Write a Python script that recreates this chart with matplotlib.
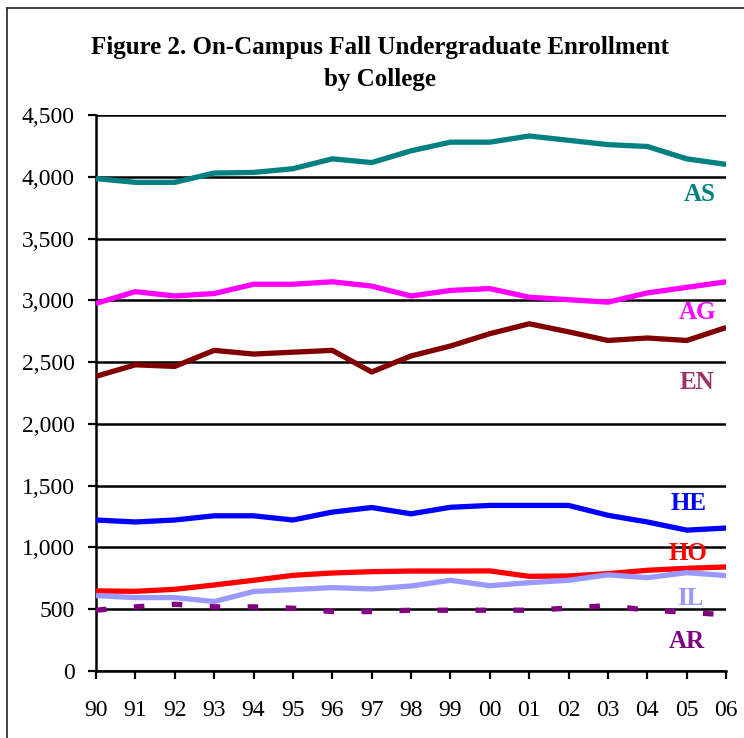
import matplotlib
matplotlib.use("Agg")
import matplotlib.pyplot as plt
from matplotlib.lines import Line2D

years = ["90", "91", "92", "93", "94", "95", "96", "97", "98", "99",
         "00", "01", "02", "03", "04", "05", "06"]

# enrollment by college
AS = [3985, 3955, 3955, 4030, 4035, 4065, 4145, 4115, 4210, 4280,
      4280, 4330, 4295, 4260, 4245, 4145, 4100]
AG = [2975, 3070, 3035, 3055, 3130, 3130, 3150, 3115, 3035, 3080,
      3095, 3025, 3005, 2985, 3060, 3105, 3150]
EN = [2385, 2478, 2465, 2595, 2565, 2580, 2595, 2420, 2550, 2630,
      2730, 2810, 2745, 2675, 2695, 2675, 2780]
HE = [1222, 1206, 1222, 1256, 1256, 1222, 1286, 1323, 1272, 1325,
      1340, 1340, 1340, 1260, 1206, 1140, 1157]
HO = [648, 645, 661, 696, 734, 774, 793, 804, 809, 809,
      810, 766, 769, 788, 815, 831, 842]
IL = [610, 594, 594, 562, 643, 659, 675, 664, 688, 734,
      690, 715, 734, 778, 755, 796, 772]
AR = [492, 519, 540, 519, 519, 508, 481, 481, 492, 492,
      492, 492, 508, 530, 492, 476, 454]

series = [
    ("AS", AS, "#008080", "-"),
    ("AG", AG, "#FF00FF", "-"),
    ("EN", EN, "#800000", "-"),
    ("HE", HE, "#0000FF", "-"),
    ("HO", HO, "#FF0000", "-"),
    ("IL", IL, "#9999FF", "-"),
    ("AR", AR, "#800080", (0, (2.0, 5.2))),
]

# label positions (x index, y value) and colours
labels = {
    "AS": (15.33, 3860, "#008080"),
    "AG": (15.26, 2900, "#FF00FF"),
    "EN": (15.26, 2335, "#993366"),
    "HE": (15.06, 1355, "#0000FF"),
    "HO": (15.03, 950, "#FF0000"),
    "IL": (15.08, 585, "#9999FF"),
    "AR": (15.0, 240, "#800080"),
}

plt.rcParams["font.family"] = ["Liberation Serif", "DejaVu Serif"]

fig = plt.figure(figsize=(7.44, 7.38), dpi=100)
ax = fig.add_axes([0.129, 0.0908, 0.847, 0.7534])

x = list(range(len(years)))
for name, vals, col, ls in series:
    ax.plot(x, vals, color=col, lw=3.8, linestyle=ls, solid_capstyle="butt",
            dash_capstyle="butt", solid_joinstyle="miter", zorder=3)

for name, (lx, ly, col) in labels.items():
    ax.text(lx, ly, name, color=col, fontsize=18, fontweight="bold",
            ha="center", va="center", zorder=4)

ax.set_xlim(0, len(years) - 1)
ax.set_ylim(0, 4500)
ax.set_yticks(range(0, 4501, 500))
ax.set_yticklabels([f"{v:,}" for v in range(0, 4501, 500)])
ax.set_xticks(x)
ax.set_xticklabels(years)
ax.yaxis.grid(True, color="black", lw=1.8)
ax.set_axisbelow(True)
for s in ["top", "right"]:
    ax.spines[s].set_visible(False)
for s in ["left", "bottom"]:
    ax.spines[s].set_linewidth(1.8)
ax.tick_params(axis="both", direction="out", length=6, width=1.6,
               labelsize=17, colors="black")
ax.tick_params(axis="x", pad=15)
ax.tick_params(axis="y", pad=9.5)

fig.text(0.511, 0.914, "Figure 2. On-Campus Fall Undergraduate Enrollment\nby College",
         ha="center", va="center", fontsize=18, fontweight="bold",
         linespacing=1.45)

# chart frame (only top and left edges fall inside the picture)
fig.add_artist(Line2D([7 / 744, 1], [1 - 8 / 738, 1 - 8 / 738],
                      transform=fig.transFigure, color="#333333", lw=1.3))
fig.add_artist(Line2D([7 / 744, 7 / 744], [0, 1 - 8 / 738],
                      transform=fig.transFigure, color="#333333", lw=1.3))

fig.savefig("out.png", dpi=100)
